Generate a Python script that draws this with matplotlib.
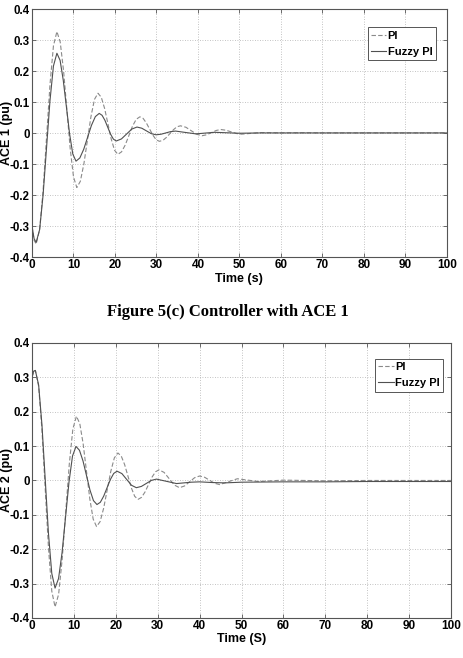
import matplotlib
matplotlib.use("Agg")
import matplotlib.pyplot as plt

# ---------------- data ----------------
t_pi1 = [0, 0.5, 1.0, 1.833, 2.667, 3.5, 4.333, 5.167, 6.0, 6.8, 7.6, 8.4, 9.2, 10.0, 10.8,
         11.65, 12.5, 13.35, 14.2, 15.05, 15.9, 16.7, 17.5, 18.3, 19.1, 19.9, 20.7,
         21.58, 22.47, 23.35, 24.23, 25.12, 26.0, 26.78, 27.57, 28.35, 29.13, 29.92, 30.7,
         31.55, 32.4, 33.25, 34.1, 34.95, 35.8, 37.1, 38.4, 39.7, 41.0, 42.1, 43.25, 44.4, 45.5,
         46.75, 48.0, 49.25, 50.5, 55, 60, 65, 70, 80, 90, 100]
ace1_pi = [-0.30, -0.345, -0.357, -0.311, -0.186, -0.0145, 0.157, 0.282, 0.328, 0.294, 0.202, 0.0765,
           -0.049, -0.141, -0.175, -0.155, -0.099, -0.023, 0.053, 0.109, 0.129, 0.116, 0.080, 0.0305,
           -0.019, -0.055, -0.068, -0.060, -0.038, -0.0075, 0.023, 0.045, 0.053, 0.048, 0.033, 0.0135,
           -0.006, -0.021, -0.026, -0.023, -0.0135, -0.001, 0.0115, 0.021, 0.024, 0.0193, 0.008, -0.0033,
           -0.008, -0.005, 0.002, 0.009, 0.012, 0.0098, 0.0045, -0.0008, -0.003, 0.002, 0.001, 0.0015,
           0.001, 0.001, 0.001, 0.001]

t_fz1 = [0, 0.5, 1.0, 1.833, 2.667, 3.5, 4.333, 5.167, 6.0, 6.77, 7.53, 8.3, 9.07, 9.83, 10.6,
         11.53, 12.47, 13.4, 14.33, 15.27, 16.2, 16.88, 17.57, 18.25, 18.93, 19.62, 20.3,
         21.55, 22.8, 24.05, 25.3, 26.45, 27.6, 28.75, 29.9, 31.1, 32.25, 33.4, 34.6, 37.0, 39.5,
         44, 50, 55, 60, 70, 80, 90, 100]
ace1_fz = [-0.30, -0.34, -0.352, -0.311, -0.1995, -0.047, 0.1055, 0.217, 0.258, 0.235, 0.171, 0.084,
           -0.003, -0.067, -0.09, -0.0797, -0.0515, -0.013, 0.0255, 0.0537, 0.064, 0.058, 0.0418, 0.0195,
           -0.0028, -0.019, -0.025, -0.0184, -0.0025, 0.0134, 0.02, 0.0163, 0.0075, -0.0013, -0.005,
           -0.0032, 0.001, 0.0052, 0.007, 0.0025, -0.002, 0.003, 0.0, 0.001, 0.001, 0.001, 0.001, 0.001, 0.001]

t_pi2 = [0, 0.4, 0.8, 1.58, 2.37, 3.15, 3.93, 4.72, 5.5, 6.35, 7.2, 8.05, 8.9, 9.75, 10.6,
         11.4, 12.2, 13.0, 13.8, 14.6, 15.4, 16.25, 17.1, 17.95, 18.8, 19.65, 20.5,
         21.3, 22.1, 22.9, 23.7, 24.5, 25.3, 26.13, 26.97, 27.8, 28.63, 29.47, 30.3,
         31.53, 32.75, 33.98, 35.2, 36.4, 37.6, 38.8, 40.0, 41.2, 42.4, 43.6, 44.8, 46.9, 49.0,
         54, 60, 70, 80, 90, 100]
ace2_pi = [0.30, 0.318, 0.32, 0.274, 0.148, -0.024, -0.196, -0.322, -0.368, -0.331, -0.229, -0.0905,
           0.048, 0.150, 0.187, 0.1655, 0.107, 0.0265, -0.054, -0.1125, -0.134, -0.1197, -0.0805, -0.027,
           0.0265, 0.0657, 0.08, 0.071, 0.0463, 0.0125, -0.0213, -0.046, -0.055, -0.0492, -0.0335, -0.012,
           0.0095, 0.0252, 0.031, 0.0234, 0.005, -0.0134, -0.021, -0.016, -0.004, 0.008, 0.013, 0.0093,
           0.0005, -0.0083, -0.012, -0.0035, 0.005, -0.003, 0.001, -0.001, 0.0, 0.0, 0.0]

t_fz2 = [0, 0.4, 0.8, 1.58, 2.37, 3.15, 3.93, 4.72, 5.5, 6.33, 7.17, 8.0, 8.83, 9.67, 10.5,
         11.33, 12.17, 13.0, 13.83, 14.67, 15.5, 16.3, 17.1, 17.9, 18.7, 19.5, 20.3,
         21.45, 22.6, 23.75, 24.9, 26.1, 27.3, 28.5, 29.7, 32.1, 34.5, 38, 40, 43, 46, 50,
         60, 70, 80, 90, 100]
ace2_fz = [0.30, 0.318, 0.32, 0.2776, 0.162, 0.0035, -0.155, -0.2706, -0.313, -0.2854, -0.21, -0.107,
           -0.004, 0.0714, 0.099, 0.0877, 0.0567, 0.0145, -0.0278, -0.0587, -0.07, -0.0635, -0.0458,
           -0.0215, 0.0028, 0.0205, 0.027, 0.020, 0.003, -0.014, -0.021, -0.0173, -0.0085, 0.0003, 0.004,
           -0.0025, -0.009, -0.005, -0.004, -0.006, -0.007, -0.005, -0.004, -0.004, -0.003, -0.003, -0.003]

x_ticks = [0, 10, 20, 30, 40, 50, 60, 70, 80, 90, 100]
y_ticks = [-0.4, -0.3, -0.2, -0.1, 0, 0.1, 0.2, 0.3, 0.4]
y_ticklabels = ["-0.4", "-0.3", "-0.2", "-0.1", "0", "0.1", "0.2", "0.3", "0.4"]
labels = ["PI", "Fuzzy PI"]

# ---------------- figure ----------------
plt.rcParams['font.family'] = ['Liberation Sans', 'DejaVu Sans']
fig = plt.figure(figsize=(4.64, 6.58), dpi=100)

ax1 = fig.add_axes([0.069, 0.609, 0.894, 0.377])
ax2 = fig.add_axes([0.069, 0.0608, 0.903, 0.418])

def style(ax, ylabel, xlabel, leg_anchor):
    ax.set_xlim(0, 100)
    ax.set_ylim(-0.4, 0.4)
    ax.set_xticks(x_ticks)
    ax.set_xticklabels([str(v) for v in x_ticks], fontsize=8.5, fontweight='bold')
    ax.set_yticks(y_ticks)
    ax.set_yticklabels(y_ticklabels, fontsize=8.3, fontweight='bold')
    ax.tick_params(direction='in', length=3, width=0.6, top=True, right=True, pad=1.5,
                   color='#555555')
    ax.grid(True, linestyle=(0, (1, 2)), color='#b0b0b0', linewidth=0.6)
    for s in ax.spines.values():
        s.set_color('#555555')
        s.set_linewidth(0.8)
    ax.set_ylabel(ylabel, fontsize=9, fontweight='bold', va='center')
    ax.yaxis.set_label_coords(-0.06, 0.5)
    ax.set_xlabel(xlabel, fontsize=9, fontweight='bold', labelpad=1)
    leg = ax.legend(loc='upper right', bbox_to_anchor=leg_anchor,
                    prop={'weight': 'bold', 'size': 8}, handlelength=1.4, handletextpad=0.1,
                    borderpad=0.3, labelspacing=0.55, fancybox=False, framealpha=1,
                    borderaxespad=0)
    leg.get_frame().set_edgecolor('#555555')
    leg.get_frame().set_linewidth(0.7)

ax1.plot(t_pi1, ace1_pi, linestyle=(0, (4, 2)), color='#8a8a8a', linewidth=0.8, label=labels[0])
ax1.plot(t_fz1, ace1_fz, linestyle='-', color='#505050', linewidth=0.8, label=labels[1])
style(ax1, "ACE 1 (pu)", "Time (s)", (0.973, 0.927))

ax2.plot(t_pi2, ace2_pi, linestyle=(0, (4, 2)), color='#8a8a8a', linewidth=0.8, label=labels[0])
ax2.plot(t_fz2, ace2_fz, linestyle='-', color='#505050', linewidth=0.8, label=labels[1])
style(ax2, "ACE 2 (pu)", "Time (S)", (0.981, 0.942))

fig.text(0.492, 1 - 312 / 658, "Figure 5(c) Controller with ACE 1", ha='center', va='center',
         fontsize=12, fontweight='bold', family=['Liberation Serif', 'DejaVu Serif'])

fig.savefig("out.png", dpi=100)
